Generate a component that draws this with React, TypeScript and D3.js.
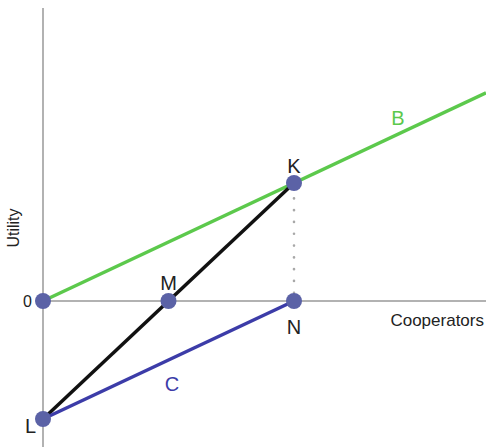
import React from 'react';
import * as d3 from 'd3';

// points in (cooperators, utility) units
const pointNames = ['O', 'M', 'N', 'K', 'L'];
const pointX = [0, 1, 2, 2, 0];
const pointY = [0, 0, 0, 1, -1];
const bLine = [[0, 0], [3.53, 1.765]];
const cLine = [[0, -1], [2, 0]];
const kLine = [[0, -1], [2, 1]];

const width = 486;
const height = 447;

const App = () => {
  const x = d3.scaleLinear().domain([0, 2]).range([43, 294]);
  const y = d3.scaleLinear().domain([0, 1]).range([301, 183]);
  const line = d3.line<number[]>().x(d => x(d[0])).y(d => y(d[1]));
  const font = 'Liberation Sans, Arial, sans-serif';
  const pt = (n: string) => {
    const i = pointNames.indexOf(n);
    return [x(pointX[i]), y(pointY[i])];
  };
  const [kx, ky] = pt('K');
  const [nx, ny] = pt('N');
  const [mx, my] = pt('M');
  const [lx, ly] = pt('L');
  const [ox, oy] = pt('O');

  return (
    <svg width={width} height={height} style={{ position: 'absolute', left: 0, top: 0, background: '#fff' }}>
      {/* axes */}
      <line x1={x(0)} x2={x(0)} y1={8} y2={height} stroke="#999" strokeWidth={1.5} />
      <line x1={x(0)} x2={width} y1={y(0)} y2={y(0)} stroke="#999" strokeWidth={1.5} />
      <line x1={kx} x2={nx} y1={ky + 3.5} y2={ny} stroke="#a8a8a8" strokeWidth={2.6} strokeDasharray="0.1 11.7" strokeLinecap="round" />
      <path d={line(bLine as number[][]) || ''} stroke="#5cc94c" strokeWidth={3.5} fill="none" />
      <path d={line(kLine as number[][]) || ''} stroke="#111" strokeWidth={3.5} fill="none" />
      <path d={line(cLine as number[][]) || ''} stroke="#3c3ca8" strokeWidth={3.5} fill="none" />
      {pointNames.map((n, i) => (
        <circle key={n} cx={x(pointX[i])} cy={y(pointY[i])} r={8} fill="#5b62a6" />
      ))}
      <g fontFamily={font} fill="#222">
        <text x={kx} y={ky - 10} fontSize={20} textAnchor="middle">K</text>
        <text x={mx} y={my - 11} fontSize={20} textAnchor="middle">M</text>
        <text x={nx} y={ny + 33} fontSize={20} textAnchor="middle">N</text>
        <text x={lx - 7} y={ly + 14} fontSize={20} textAnchor="end">L</text>
        <text x={ox - 11} y={oy + 6} fontSize={16} textAnchor="end">0</text>
        <text x={width - 2} y={y(0) + 25} fontSize={17} textAnchor="end">Cooperators</text>
        <text transform={`translate(19,228) rotate(-90)`} fontSize={16} textAnchor="middle">Utility</text>
        <text x={398} y={125} fontSize={20} textAnchor="middle" fill="#5cc94c">B</text>
        <text x={172} y={391} fontSize={20} textAnchor="middle" fill="#3c3ca8">C</text>
      </g>
    </svg>
  );
};

export default App;
